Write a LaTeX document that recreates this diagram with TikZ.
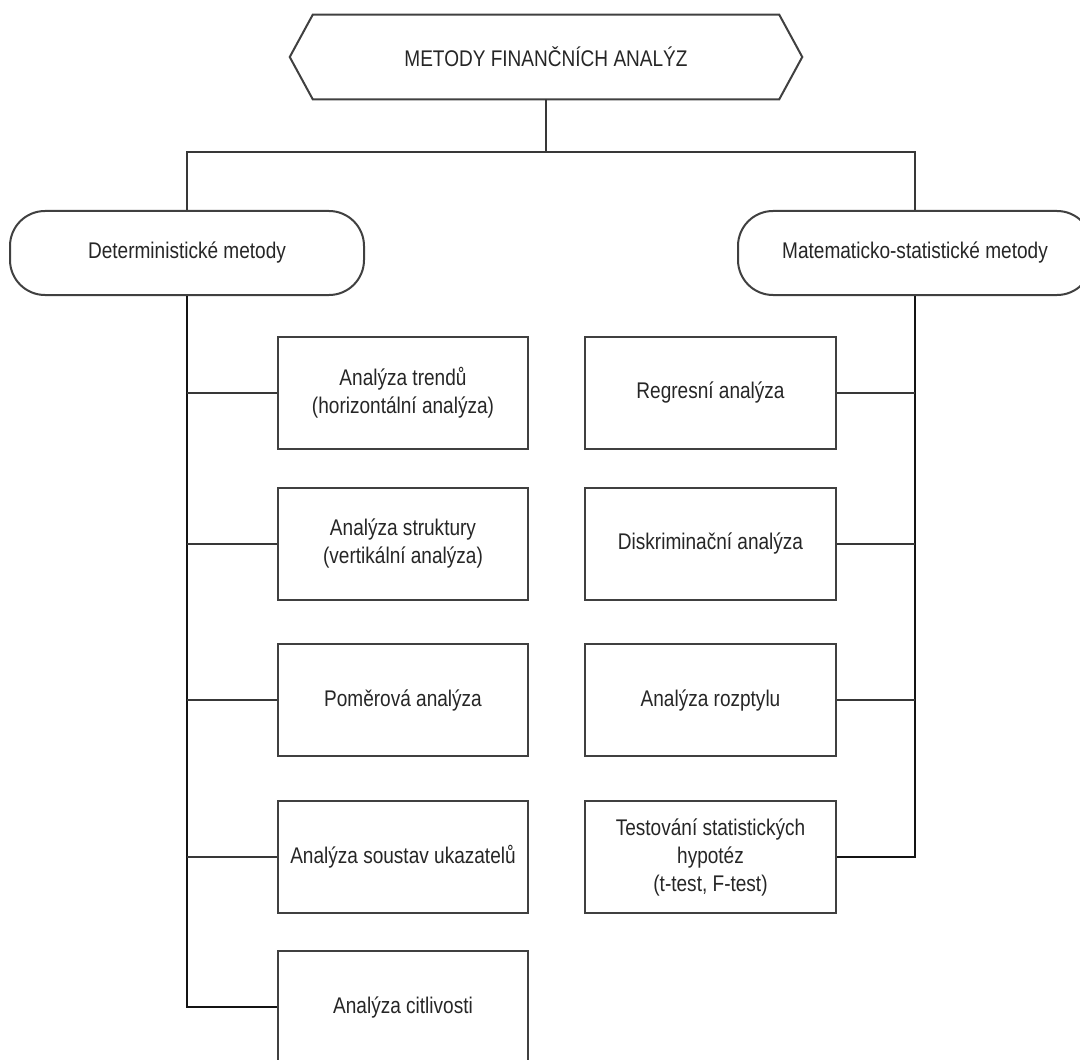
\documentclass[tikz,border=0pt]{standalone}
\usepackage{fontspec}
\setmainfont{Liberation Sans}[FakeStretch=0.84]
\newcommand\px{0.75pt}
\begin{document}
\begin{tikzpicture}[x=0.75pt,y=-0.75pt,
  lbl/.style={font=\fontsize{17pt}{21pt}\selectfont, text=black!85, align=center, inner sep=0pt},
  ln/.style={draw=black!75, line width=2*\px},
  stadium/.style={lbl, ln, rounded corners=35*\px, minimum width=354*\px, minimum height=84*\px},
  methodbox/.style={lbl, ln, minimum width=250*\px, minimum height=112*\px},
  conn/.style={draw=black!78, line width=2*\px},
  trunk/.style={draw=black!92, line width=2.6*\px}]
\useasboundingbox (0,0) rectangle (1080,1059);
\clip (0,0) rectangle (1080,1059);

% top hexagon
\node[lbl, minimum width=512*\px, minimum height=84*\px] (top) at (546,57) {METODY FINANČNÍCH ANALÝZ};
\draw[ln] (top.west) -- ([xshift=23*\px]top.north west) -- ([xshift=-23*\px]top.north east)
  -- (top.east) -- ([xshift=-23*\px]top.south east) -- ([xshift=23*\px]top.south west) -- cycle;

% second level
\node[stadium] (det) at (187,253) {Deterministické metody};
\node[stadium] (mat) at (915,253) {Matematicko-statistické metody};

% left column
\node[methodbox] (d1) at (403,392.5) {Analýza trendů\\(horizontální analýza)};
\node[methodbox] (d2) at (403,543.5) {Analýza struktury\\(vertikální analýza)};
\node[methodbox] (d3) at (403,700) {Poměrová analýza};
\node[methodbox] (d4) at (403,856.5) {Analýza soustav ukazatelů};
\node[methodbox] (d5) at (403,1007) {Analýza citlivosti};

% right column
\node[methodbox, minimum width=251*\px] (m1) at (710.5,392.5) {Regresní analýza};
\node[methodbox, minimum width=251*\px] (m2) at (710.5,543.5) {Diskriminační analýza};
\node[methodbox, minimum width=251*\px] (m3) at (710.5,700) {Analýza rozptylu};
\node[methodbox, minimum width=251*\px] (m4) at (710.5,857) {Testování statistických\\hypotéz\\(t-test, F-test)};

% connectors
\coordinate (j) at (546,152);
\draw[conn] (top.south) -- (j);
\draw[conn] (det.north) |- (j) -| (mat.north);

\draw[trunk] (det.south) |- (d5.west);
\foreach \b in {d1,d2,d3,d4} \draw[conn] (\b.west) -- (\b.west -| det.south);

\draw[trunk] (mat.south) |- (m4.east);
\foreach \b in {m1,m2,m3} \draw[conn] (\b.east) -- (\b.east -| mat.south);
\end{tikzpicture}
\end{document}
